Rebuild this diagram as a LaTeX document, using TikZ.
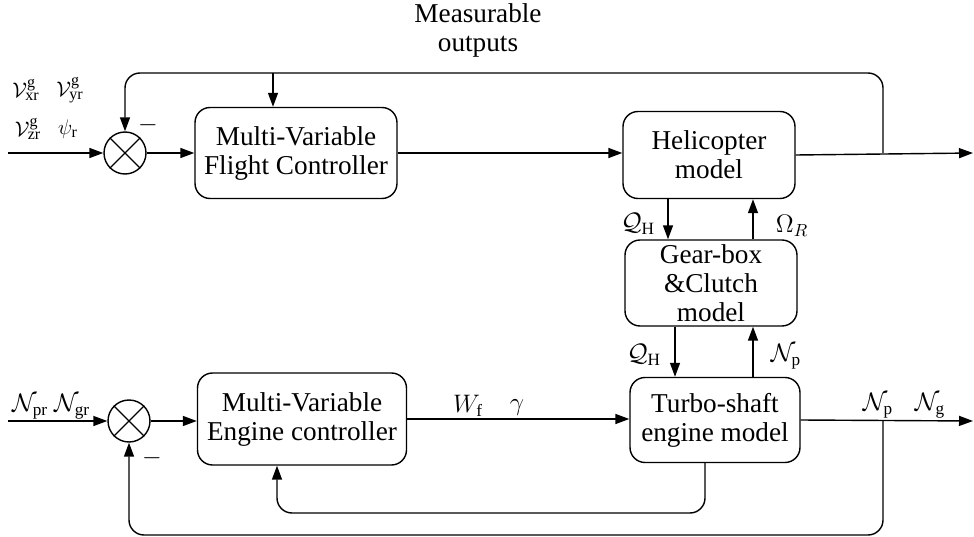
\documentclass[tikz,border=0pt]{standalone}
\usepackage{fontspec}
\setmainfont{Liberation Serif}
\usetikzlibrary{arrows.meta, positioning}

\begin{document}
\begin{tikzpicture}[x=0.02cm, y=-0.02cm,
  every node/.style={font=\fontsize{15.5}{16.5}\selectfont},
  block/.style={draw, rounded corners=0.3cm, align=center, inner sep=0pt, line width=0.8pt},
  sumnode/.style={draw, circle, minimum size=0.84cm, inner sep=0pt, line width=0.8pt},
  sig/.style={-{Triangle[length=0.28cm, width=0.2cm]}, line width=0.8pt},
  wire/.style={line width=0.8pt, rounded corners=0.3cm},
  lbl/.style={inner sep=0pt, font=\fontsize{14}{16}\selectfont},
  reflbl/.style={inner sep=0pt, font=\fontsize{13}{14}\selectfont}]
  \useasboundingbox (0,0) rectangle (974,537);

  % Blocks
  \node[sumnode] (sum1) at (125,153) {};
  \draw[line width=0.8pt] (sum1.north east) -- (sum1.south west) (sum1.north west) -- (sum1.south east);
  \node[block, minimum width=4.04cm, minimum height=1.82cm] (fc) at (296,153) {Multi-Variable\\Flight Controller};
  \node[block, minimum width=3.44cm, minimum height=1.74cm] (heli) at (709,155) {Helicopter\\model};
  \node[block, minimum width=3.44cm, minimum height=1.72cm] (gear) at (711,283) {Gear-box\\\&Clutch\\model};
  \node[block, minimum width=3.4cm, minimum height=1.7cm] (turbo) at (715,420) {Turbo-shaft\\engine model};
  \node[block, minimum width=4.18cm, minimum height=1.84cm] (ec) at (302,419) {Multi-Variable\\Engine controller};
  \node[sumnode] (sum2) at (129,421) {};
  \draw[line width=0.8pt] (sum2.north east) -- (sum2.south west) (sum2.north west) -- (sum2.south east);

  % Free ends and taps
  \coordinate (in1) at (8,153);
  \coordinate (out1) at (973,153);
  \coordinate (tap1) at (883,153);
  \coordinate (fbtop) at (273,73);
  \coordinate (in2) at (8,421);
  \coordinate (out2) at (973,421);
  \coordinate (tap2) at (883,421);
  \coordinate (fbbot) at (129,535);
  \coordinate (fbin) at (277,513);
  \coordinate (qhtop) at ([xshift=-0.82cm]heli.south);
  \coordinate (omtop) at ([xshift=0.88cm]heli.south);
  \coordinate (qhbot) at ([xshift=-0.72cm]gear.south);
  \coordinate (npbot) at ([xshift=0.84cm]gear.south);
  \coordinate (tbout) at ([xshift=-0.2cm]turbo.south);

  % Upper loop
  \draw[sig] (in1) -- (sum1.west);
  \draw[sig] (sum1.east) -- (fc.west);
  \draw[sig] (fc.east) -- (fc.east -| heli.west);
  \draw[sig] (heli.east) -- (out1);
  \draw[sig, wire] (tap1) |- (fbtop) -| (sum1.north);
  \draw[sig] (fbtop) -- (fbtop |- fc.north);

  % Shaft links
  \draw[sig] (qhtop) -- (qhtop |- gear.north);
  \draw[sig] (omtop |- gear.north) -- (omtop);
  \draw[sig] (qhbot) -- (qhbot |- turbo.north);
  \draw[sig] (npbot |- turbo.north) -- (npbot);

  % Lower loop
  \draw[sig] (in2) -- (sum2.west);
  \draw[sig] (sum2.east) -- (sum2.east -| ec.west);
  \draw[sig] (ec.east) -- (ec.east -| turbo.west);
  \draw[sig] (turbo.east) -- (out2);
  \draw[sig, wire] (tbout) |- (fbin) -- (fbin |- ec.south);
  \draw[sig, wire] (tap2) |- (fbbot) -- (sum2.south);

  % Labels
  \node[align=center] (meas) at (478,30) {Measurable\\outputs};
  \node[reflbl] (vx) at (26,90) {$\mathcal{V}^{\mathrm{g}}_{\mathrm{xr}}$};
  \node[reflbl] (vy) at (70,90) {$\mathcal{V}^{\mathrm{g}}_{\mathrm{yr}}$};
  \node[reflbl] (vz) at (28,129) {$\mathcal{V}^{\mathrm{g}}_{\mathrm{zr}}$};
  \node[reflbl] (psi) at (68,129) {$\psi_{\mathrm{r}}$};
  \node[lbl] (neg1) at (148,125) {$-$};
  \node[lbl] (npr) at (30,407) {$\mathcal{N}_{\mathrm{pr}}$};
  \node[lbl] (ngr) at (72,407) {$\mathcal{N}_{\mathrm{gr}}$};
  \node[lbl] (neg2) at (152,458) {$-$};
  \node[lbl] (qh1) at (638,224) {$\mathcal{Q}_{\mathrm{H}}$};
  \node[lbl] (omr) at (792,226) {$\Omega_R$};
  \node[lbl] (qh2) at (644,355) {$\mathcal{Q}_{\mathrm{H}}$};
  \node[lbl] (np1) at (786,357) {$\mathcal{N}_{\mathrm{p}}$};
  \node[lbl] (wf) at (468,406) {$W_{\mathrm{f}}$};
  \node[lbl] (gam) at (517,408) {$\gamma$};
  \node[lbl] (np2) at (878,406) {$\mathcal{N}_{\mathrm{p}}$};
  \node[lbl] (ng2) at (930,406) {$\mathcal{N}_{\mathrm{g}}$};
\end{tikzpicture}
\end{document}
